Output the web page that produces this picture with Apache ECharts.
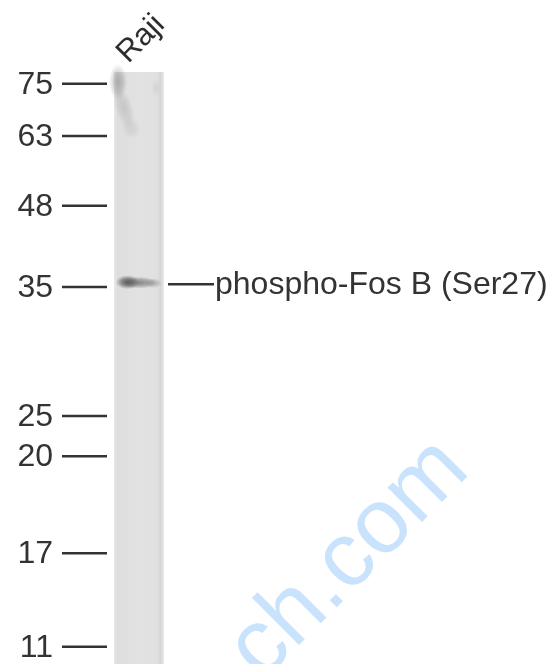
<!DOCTYPE html>
<html>
<head>
<meta charset="utf-8">
<script src="https://cdn.jsdelivr.net/npm/echarts@6/dist/echarts.min.js"></script>
<style>
html,body{margin:0;padding:0;background:#fff;}
#chart{width:555px;height:664px;}
</style>
</head>
<body>
<div id="chart"></div>
<script>
// ---- data read from the blot ----
const laneNames = ['Raji'];
const markerLabels = ['75', '63', '48', '35', '25', '20', '17', '11'];
const markerKDa = [75, 63, 48, 35, 25, 20, 17, 11];
// relative migration (0 = top of lane, 1 = bottom of image)
const markerMigration = [0.020, 0.108, 0.226, 0.363, 0.581, 0.649, 0.813, 0.971];
const bandNames = ['phospho-Fos B (Ser27)'];
const bandMigration = [0.355];
const bandIntensity = [0.8];
const watermarkText = 'ch.com';

// ---- layout (pixels) ----
const L = {
  laneX0: 114, laneX1: 164,
  tickX0: 62, tickX1: 107, labelX: 53,
  bandX0: 118, bandX1: 161,
  bandLineX0: 168, bandLineX1: 214, bandTextX: 215
};
const font = '"Liberation Sans", Arial, sans-serif';

function radial(c, a) {
  return {
    type: 'radial', x: 0.5, y: 0.5, r: 0.5,
    colorStops: [
      { offset: 0, color: 'rgba(' + c + ',' + a + ')' },
      { offset: 0.5, color: 'rgba(' + c + ',' + (a * 0.65) + ')' },
      { offset: 1, color: 'rgba(' + c + ',0)' }
    ]
  };
}
function blob(cx, cy, r, sx, sy, c, a, rot) {
  return { type: 'circle', x: cx, y: cy, scaleX: sx, scaleY: sy, rotation: rot || 0,
    shape: { cx: 0, cy: 0, r: r }, style: { fill: radial(c, a) } };
}

const chart = echarts.init(document.getElementById('chart'), null, { renderer: 'canvas' });

const option = {
  backgroundColor: '#ffffff',
  animation: false,
  grid: { left: 0, right: 0, top: 72, bottom: 0 },
  xAxis: { type: 'value', min: 0, max: 555, show: false },
  yAxis: { type: 'value', min: 0, max: 1, inverse: true, show: false },
  series: [
    {
      // lane
      type: 'custom',
      data: laneNames.map((n, i) => [i, 0, 1]),
      renderItem: function (params, api) {
        const yTop = api.coord([0, api.value(1)])[1];
        const yBot = api.coord([0, api.value(2)])[1];
        const name = laneNames[api.value(0)];
        return {
          type: 'group',
          children: [
            { type: 'rect', shape: { x: L.laneX0, y: yTop, width: L.laneX1 - L.laneX0, height: yBot - yTop },
              style: { fill: { type: 'linear', x: 0, y: 0, x2: 1, y2: 0, colorStops: [
                { offset: 0, color: '#e8e8e8' }, { offset: 0.06, color: '#dedede' },
                { offset: 0.5, color: '#e2e2e2' }, { offset: 0.86, color: '#e0e0e0' },
                { offset: 0.93, color: '#d6d6d6' }, { offset: 1, color: '#e9e9e9' } ] } } },
            // smear at top of lane
            blob(118, 82, 9, 1, 2.0, '110,110,110', 0.45),
            blob(124, 108, 9, 1, 2.4, '140,140,140', 0.3, 0.3),
            blob(131, 128, 8, 1.2, 1.4, '160,160,160', 0.25, 0.5),
            blob(156, 88, 5, 1, 1.6, '180,180,180', 0.25),
            { type: 'text', x: 141, y: 39, rotation: Math.PI / 4,
              style: { text: name, font: '31px ' + font, fill: '#2e2e2e', align: 'center', verticalAlign: 'middle' } }
          ]
        };
      }
    },
    {
      // marker ticks
      type: 'custom',
      data: markerMigration.map((m, i) => [i, m, markerKDa[i]]),
      renderItem: function (params, api) {
        const y = api.coord([0, api.value(1)])[1];
        const label = markerLabels[api.value(0)];
        return {
          type: 'group',
          children: [
            { type: 'line', shape: { x1: L.tickX0, y1: y, x2: L.tickX1, y2: y },
              style: { stroke: '#333', lineWidth: 2.5 } },
            { type: 'text', x: L.labelX, y: y + 1,
              style: { text: label, font: '32px ' + font, fill: '#333', align: 'right', verticalAlign: 'middle' } }
          ]
        };
      }
    },
    {
      // bands
      type: 'custom',
      data: bandMigration.map((m, i) => [i, m, bandIntensity[i]]),
      renderItem: function (params, api) {
        const y = api.coord([0, api.value(1)])[1];
        const k = api.value(2);
        const name = bandNames[api.value(0)];
        const w = L.bandX1 - L.bandX0;
        return {
          type: 'group',
          children: [
            blob(L.bandX0 + w * 0.22, y, 7, 1.7, 1, '60,60,60', k),
            blob(L.bandX0 + w * 0.5, y + 0.5, 6, 2.8, 1, '85,85,85', k * 0.8),
            blob(L.bandX0 + w * 0.82, y + 1, 5, 1.8, 1, '115,115,115', k * 0.55),
            { type: 'line', shape: { x1: L.bandLineX0, y1: y + 2, x2: L.bandLineX1, y2: y + 2 },
              style: { stroke: '#333', lineWidth: 2.5 } },
            { type: 'text', x: L.bandTextX, y: y + 3,
              style: { text: name, font: '32px ' + font, fill: '#333', align: 'left', verticalAlign: 'middle' } }
          ]
        };
      }
    }
  ],
  graphic: [
    { type: 'text', x: 244, y: 664, rotation: Math.PI / 4, silent: true, z: 100,
      style: { text: watermarkText, font: '92px ' + font, fill: 'rgba(190,222,250,0.85)', align: 'left', verticalAlign: 'middle' } }
  ]
};
chart.setOption(option);
</script>
</body>
</html>
